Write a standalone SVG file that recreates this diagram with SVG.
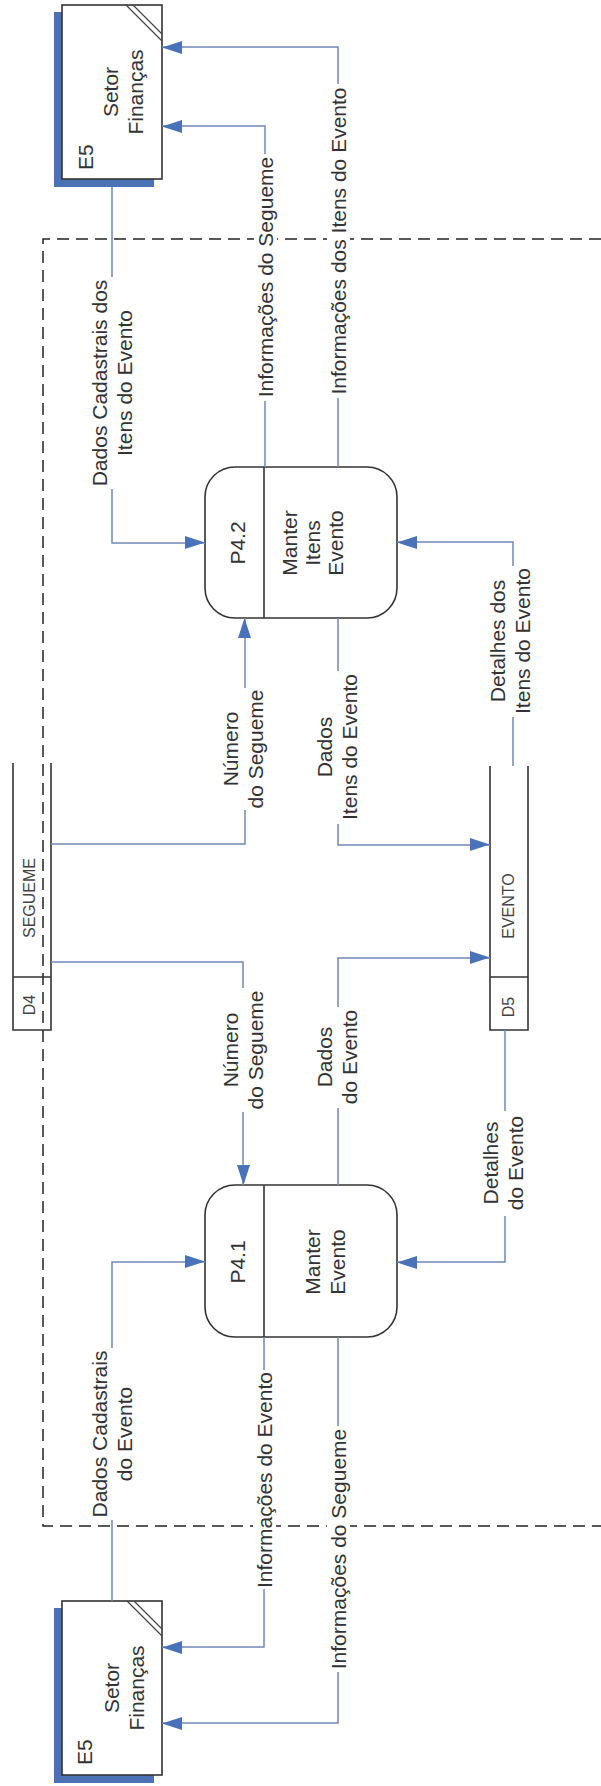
<svg xmlns="http://www.w3.org/2000/svg" width="601" height="1786" viewBox="0 0 601 1786">
<defs>
<style>
.t{font-family:"Liberation Sans",Arial,sans-serif;font-size:21px;fill:#333;text-anchor:middle}
.st{text-anchor:start}
.s{font-family:"Liberation Sans",Arial,sans-serif;font-size:16px;fill:#444;text-anchor:middle}
.box{fill:#fff;stroke:#333;stroke-width:1.6}
.shadow{fill:#4a72b5}
.ln{fill:none;stroke:#333;stroke-width:1.6}
.thin{fill:none;stroke:#444;stroke-width:1.2}
.c{fill:none;stroke:#7088b8;stroke-width:1.5;marker-end:url(#arr)}
.bg{fill:#fff}
.dash{fill:none;stroke:#222;stroke-width:1.5;stroke-dasharray:12 7}
</style>
<marker id="arr" markerUnits="userSpaceOnUse" markerWidth="20" markerHeight="14" refX="20" refY="7" orient="auto">
<path d="M0,0 L20,6.5 L0,13 z" fill="#4a72b8"/>
</marker>
</defs>
<rect width="601" height="1786" fill="#fff"/>

<g id="boundary">
<path class="dash" d="M601,239 H43 V1526 H601"/>
</g>

<g id="E5-top">
<rect class="shadow" x="54" y="12" width="100" height="175"/>
<rect class="box" x="62" y="5" width="100" height="174"/>
<path class="thin" d="M126,5 L162,41 M133,5 L162,34"/>
<text class="t st" transform="translate(93,170) rotate(-90)">E5</text>
<text class="t" transform="translate(118,92) rotate(-90)"><tspan x="0">Setor</tspan><tspan x="0" dy="25">Finanças</tspan></text>
</g>

<g id="E5-bottom">
<rect class="shadow" x="54" y="1608" width="100" height="175"/>
<rect class="box" x="62" y="1601" width="100" height="174"/>
<path class="thin" d="M127,1601 L162,1636 M134,1601 L162,1629"/>
<text class="t st" transform="translate(92,1765) rotate(-90)">E5</text>
<text class="t" transform="translate(119,1688) rotate(-90)"><tspan x="0">Setor</tspan><tspan x="0" dy="25">Finanças</tspan></text>
</g>

<g id="P4.2">
<rect class="box" x="205" y="467" width="192" height="151" rx="30"/>
<line class="ln" x1="264" y1="467" x2="264" y2="618"/>
<text class="t" transform="translate(245,543) rotate(-90)">P4.2</text>
<text class="t" transform="translate(297,543) rotate(-90)"><tspan x="0">Manter</tspan><tspan x="0" dy="23">Itens</tspan><tspan x="0" dy="23">Evento</tspan></text>
</g>

<g id="P4.1">
<rect class="box" x="205" y="1185" width="192" height="152" rx="30"/>
<line class="ln" x1="264" y1="1185" x2="264" y2="1337"/>
<text class="t" transform="translate(245,1262) rotate(-90)">P4.1</text>
<text class="t" transform="translate(320,1262) rotate(-90)"><tspan x="0">Manter</tspan><tspan x="0" dy="25">Evento</tspan></text>
</g>

<g id="D4">
<path class="ln" d="M13,763 V1030 H51 V763 M13,977 H51"/>
<text class="s" transform="translate(35,898) rotate(-90)">SEGUEME</text>
<text class="s" transform="translate(35,1005) rotate(-90)">D4</text>
</g>

<g id="D5">
<path class="ln" d="M490,766 V1030 H528 V766 M490,977 H528"/>
<text class="s" transform="translate(514,906) rotate(-90)">EVENTO</text>
<text class="s" transform="translate(514,1007) rotate(-90)">D5</text>
</g>

<g id="connectors">
<g id="c1">
<path class="c" d="M338,467 V47 H162"/>
<rect class="bg" x="327" y="84" width="23" height="314"/>
<text class="t" transform="translate(345.5,241) rotate(-90)">Informações dos Itens do Evento</text>
</g>
<g id="c2">
<path class="c" d="M265,467 V126 H162"/>
<rect class="bg" x="254" y="154" width="23" height="247"/>
<text class="t" transform="translate(273,277) rotate(-90)">Informações do Segueme</text>
</g>
<g id="c3">
<path class="c" d="M112,187 V543 H205"/>
<rect class="bg" x="85" y="277" width="52" height="212"/>
<text class="t" transform="translate(107,383) rotate(-90)"><tspan x="0">Dados Cadastrais dos</tspan><tspan x="0" dy="25">Itens do Evento</tspan></text>
</g>
<g id="c4">
<path class="c" d="M51,844 H245 V618"/>
<rect class="bg" x="221" y="688" width="48" height="122"/>
<text class="t" transform="translate(238,749) rotate(-90)"><tspan x="0">Número</tspan><tspan x="0" dy="25">do Segueme</tspan></text>
</g>
<g id="c5">
<path class="c" d="M51,962 H243 V1185"/>
<rect class="bg" x="221" y="988" width="48" height="124"/>
<text class="t" transform="translate(238,1050) rotate(-90)"><tspan x="0">Número</tspan><tspan x="0" dy="25">do Segueme</tspan></text>
</g>
<g id="c6">
<path class="c" d="M338,618 V845 H490"/>
<rect class="bg" x="314" y="671" width="48" height="153"/>
<text class="t" transform="translate(332,747) rotate(-90)"><tspan x="0">Dados</tspan><tspan x="0" dy="25">Itens do Evento</tspan></text>
</g>
<g id="c7">
<path class="c" d="M338,1185 V958 H490"/>
<rect class="bg" x="314" y="1007" width="48" height="101"/>
<text class="t" transform="translate(332,1057) rotate(-90)"><tspan x="0">Dados</tspan><tspan x="0" dy="25">do Evento</tspan></text>
</g>
<g id="c8">
<path class="c" d="M513,766 V542 H397"/>
<rect class="bg" x="487" y="566" width="48" height="151"/>
<text class="t" transform="translate(505,641) rotate(-90)"><tspan x="0">Detalhes dos</tspan><tspan x="0" dy="25">Itens do Evento</tspan></text>
</g>
<g id="c9">
<path class="c" d="M505,1030 V1262 H397"/>
<rect class="bg" x="480" y="1111" width="48" height="105"/>
<text class="t" transform="translate(498,1163) rotate(-90)"><tspan x="0">Detalhes</tspan><tspan x="0" dy="25">do Evento</tspan></text>
</g>
<g id="c10">
<path class="c" d="M112,1601 V1262 H205"/>
<rect class="bg" x="85" y="1348" width="52" height="172"/>
<text class="t" transform="translate(107,1434) rotate(-90)"><tspan x="0">Dados Cadastrais</tspan><tspan x="0" dy="25">do Evento</tspan></text>
</g>
<g id="c11">
<path class="c" d="M264,1337 V1647 H162"/>
<rect class="bg" x="253" y="1370" width="23" height="219"/>
<text class="t" transform="translate(272,1480) rotate(-90)">Informações do Evento</text>
</g>
<g id="c12">
<path class="c" d="M338,1337 V1723 H162"/>
<rect class="bg" x="327" y="1426" width="23" height="246"/>
<text class="t" transform="translate(346,1549) rotate(-90)">Informações do Segueme</text>
</g>
</g>
</svg>
